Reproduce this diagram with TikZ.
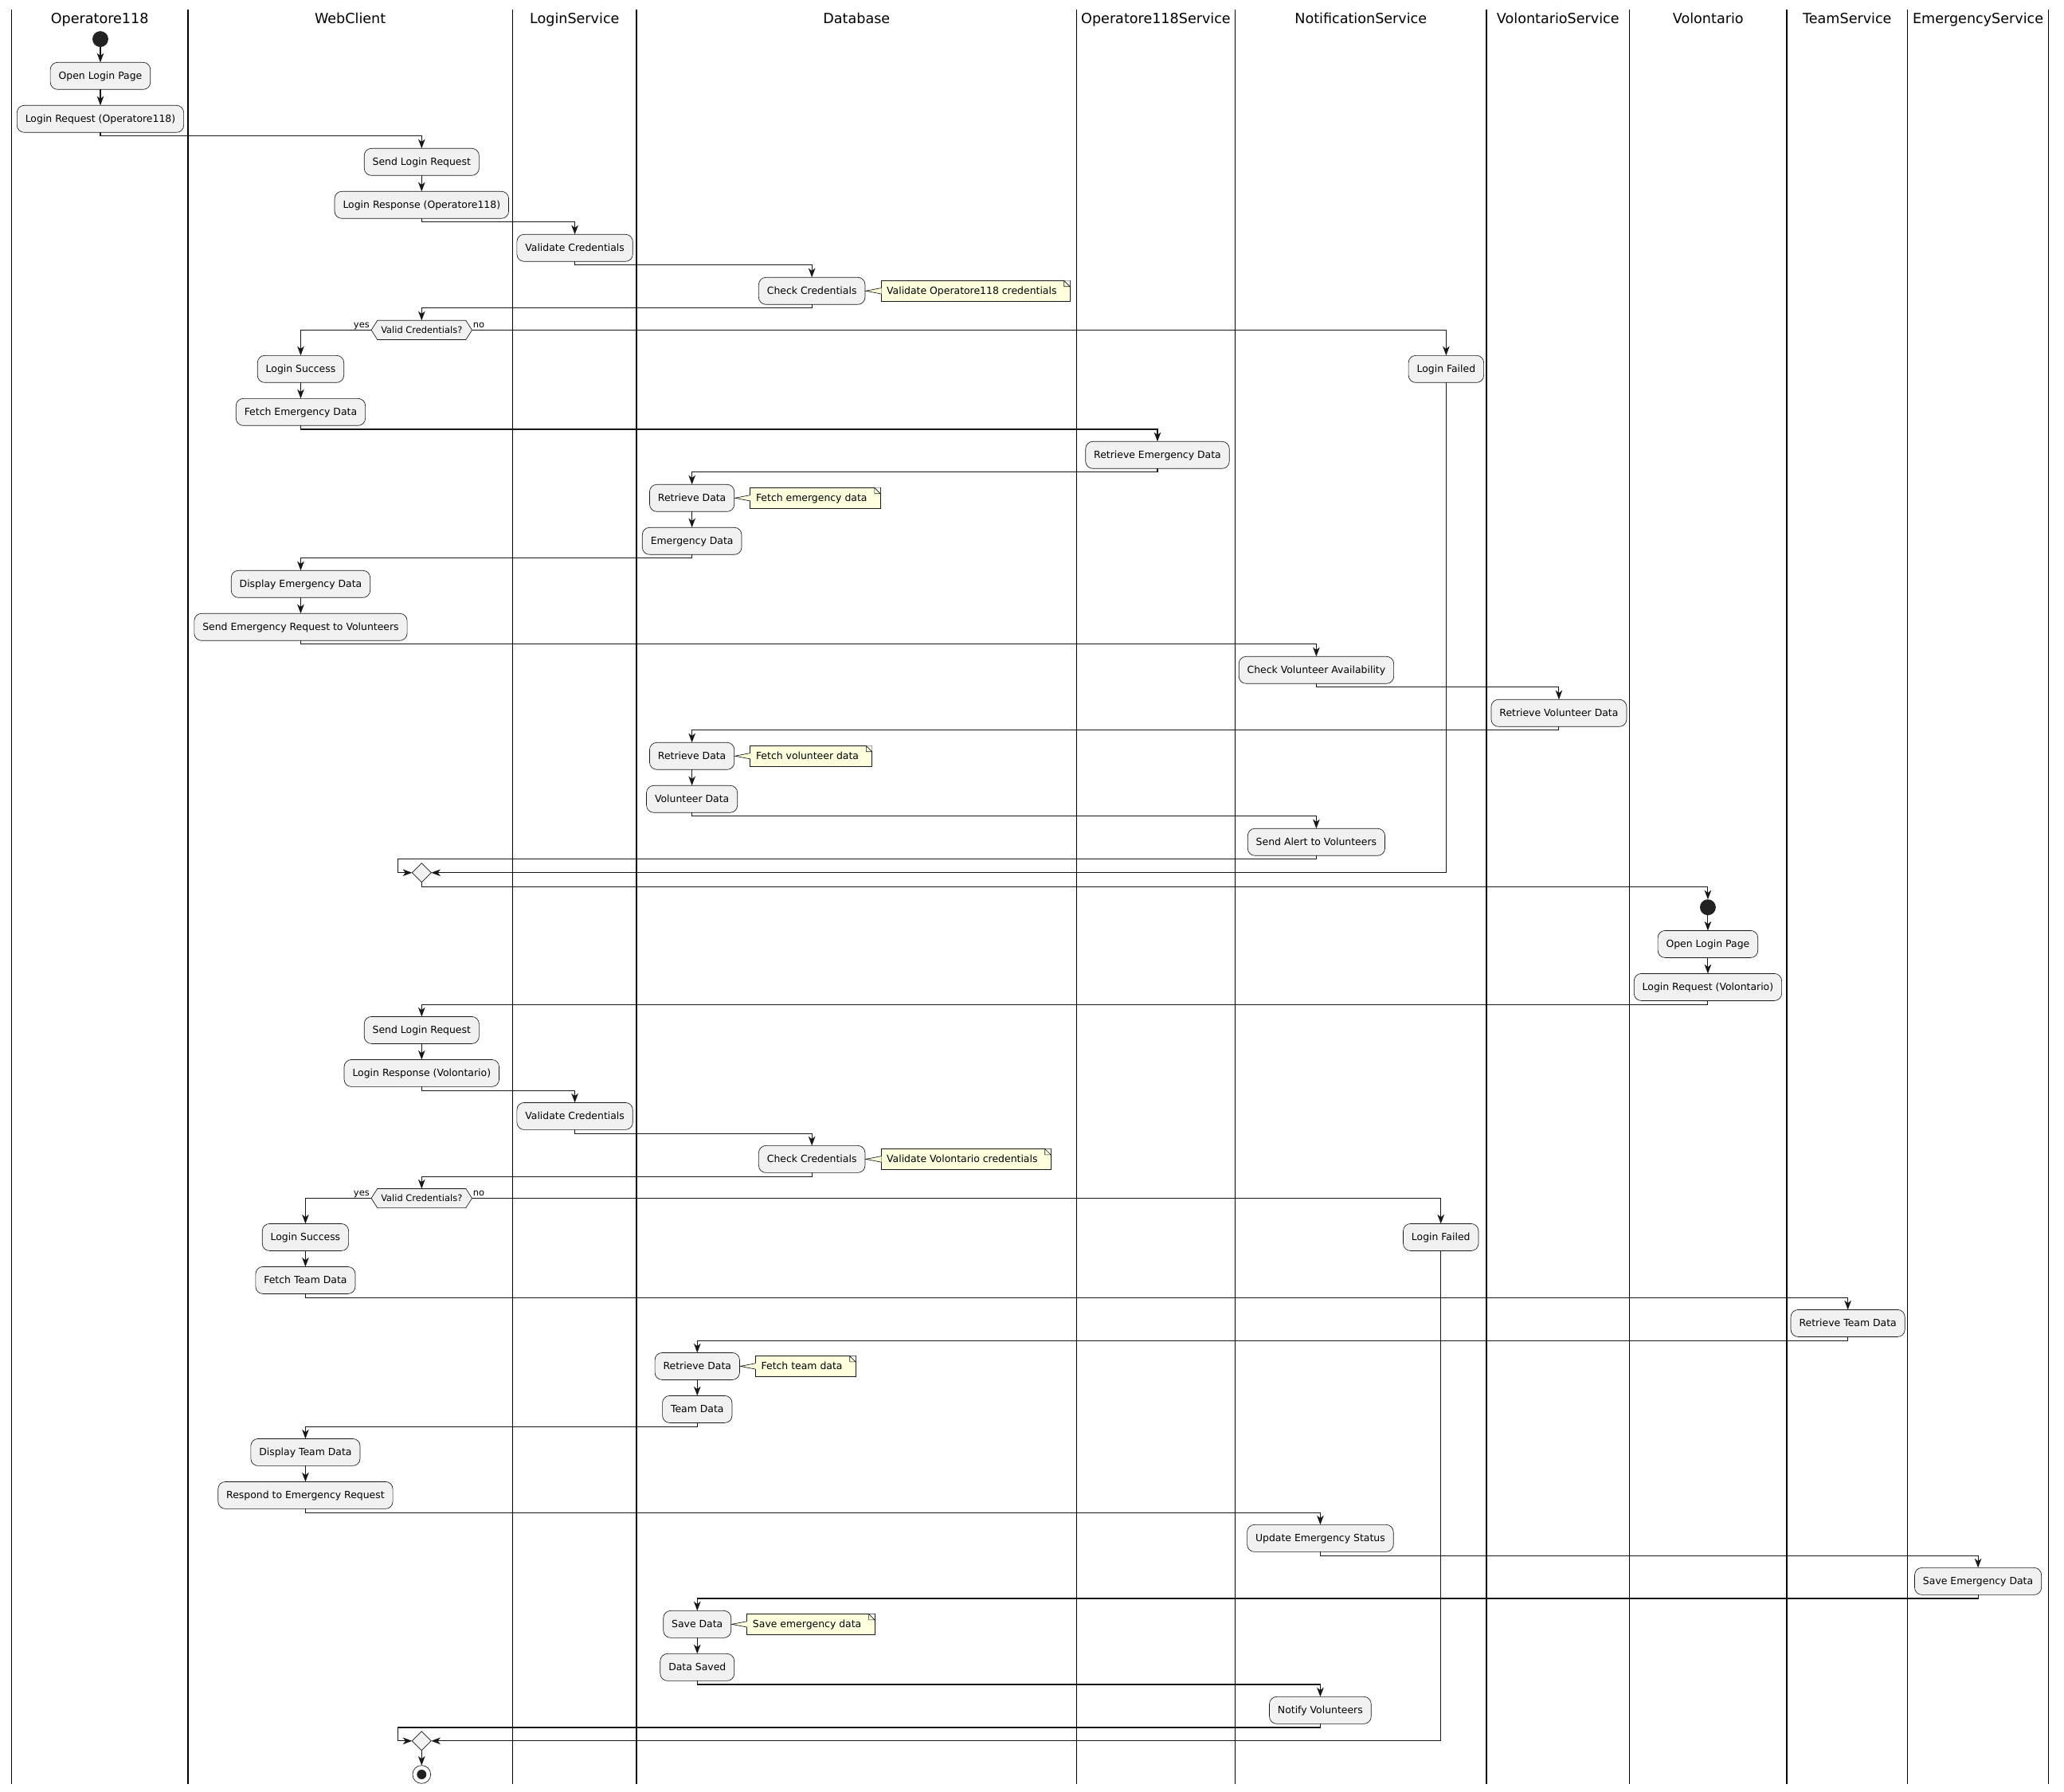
\documentclass[tikz,border=0pt]{standalone}
\usepackage{fontspec}
\setmainfont{DejaVu Sans}
\usetikzlibrary{arrows.meta, positioning, shapes.geometric, shapes.symbols}
\usepackage{xcolor}
\definecolor{actfill}{HTML}{F1F1F1}
\definecolor{actline}{HTML}{181818}
\definecolor{notefill}{HTML}{FEFFDD}
\definecolor{startfill}{HTML}{222222}

\begin{document}
\begin{tikzpicture}[
    x=1pt, y=-1pt,
    node distance=12.07pt,
    box/.style={draw=actline, fill=actfill, line width=0.4pt, rectangle, rounded corners=5.5pt,
        minimum height=20.5pt, inner xsep=6.3pt, inner ysep=0pt, outer sep=0pt,
        text height=5.7pt, text depth=0.5pt, font=\fontsize{7.5pt}{9pt}\selectfont},
    notebox/.style={draw=actline, fill=notefill, line width=0.4pt, rectangle,
        minimum height=15.5pt, inner xsep=4.4pt, inner ysep=0pt, outer sep=0pt,
        text height=5.7pt, text depth=0.5pt, font=\fontsize{7.5pt}{9pt}\selectfont,
        execute at end node=\hspace{5.6pt}},
    decision/.style={draw=actline, fill=actfill, line width=0.4pt, signal, signal to=east and west,
        signal pointer angle=115, minimum width=75.5pt, minimum height=14.6pt,
        inner xsep=2.7pt, inner ysep=0pt, outer sep=0pt,
        text height=5.2pt, text depth=0.5pt, font=\fontsize{6.9pt}{8pt}\selectfont},
    merge/.style={draw=actline, fill=actfill, line width=0.4pt, diamond, aspect=1,
        minimum width=14.5pt, minimum height=14.5pt, inner sep=0pt, outer sep=0pt},
    startdot/.style={circle, fill=startfill, minimum size=12pt, inner sep=0pt, outer sep=0pt},
    stopdot/.style={circle, draw=actline, fill=white, line width=0.4pt, minimum size=13.7pt,
        inner sep=0pt, outer sep=0pt,
        path picture={\fill[startfill] (path picture bounding box.center) circle (3.6pt);}},
    lanetitle/.style={anchor=base, font=\fontsize{10.6pt}{12pt}\selectfont},
    laneline/.style={line width=0.95pt, black},
    lbl/.style={inner sep=0pt, font=\fontsize{6.9pt}{8pt}\selectfont},
    arrow/.style={-{Stealth[length=7pt, width=5.2pt, inset=2pt]}, line width=0.65pt, actline}
]
\useasboundingbox (0,0) rectangle (1563,1357);

% Swimlanes
\foreach \x in {8.65,142.3,388.1,482.1,815.2,935.4,1125.6,1234,1353,1444.5,1551.3}
    \draw[laneline] (\x,7.4) -- (\x,1351);
\foreach \x/\t [count=\i] in {75.5/Operatore118, 265.2/WebClient, 435.1/LoginService,
        648.7/Database, 875.3/Operatore118Service, 1030.5/NotificationService,
        1179.8/VolontarioService, 1293.5/Volontario, 1398.8/TeamService, 1497.9/EmergencyService}
    \node[lanetitle] (lane\i) at (\x,17.7) {\t};

% Login Operatore118
\node[startdot] (opStart) at (76,29.6) {};
\node[box] (opOpen) at (76,57.5) {Open Login Page};
\node[box, below=of opOpen] (opReq) {Login Request (Operatore118)};
\node[box] (wcSend1) at (319.3,122.64) {Send Login Request};
\node[box, below=of wcSend1] (wcResp1) {Login Response (Operatore118)};
\node[box] (lsVal1) at (435.3,187.78) {Validate Credentials};
\node[box] (dbCheck1) at (614.8,220.35) {Check Credentials};
\node[notebox, right=12pt of dbCheck1] (noteA) {Validate Operatore118 credentials};
\node[decision] (dec1) at (319.3,250) {Valid Credentials?};
\node[lbl, anchor=base east] (yes1) at ([xshift=-1.2pt, yshift=1.7pt]dec1.west) {yes};
\node[lbl, anchor=base west] (no1) at ([xshift=0.6pt, yshift=1.7pt]dec1.east) {no};
\node[box] (failA) at (1095.1,279.5) {Login Failed};

% Emergency data
\node[box] (wcOk1) at (227.7,279.5) {Login Success};
\node[box, below=of wcOk1] (wcFetch1) {Fetch Emergency Data};
\node[box] (osRetr) at (876.5,344.64) {Retrieve Emergency Data};
\node[box] (dbRetr1) at (524,377.21) {Retrieve Data};
\node[notebox, right=12pt of dbRetr1] (noteB) {Fetch emergency data};
\node[box, below=of dbRetr1] (dbEmer) {Emergency Data};
\node[box] (wcShow1) at (227.7,442.35) {Display Emergency Data};
\node[box, below=of wcShow1] (wcSendReq) {Send Emergency Request to Volunteers};
\node[box] (nsCheck) at (996.8,507.49) {Check Volunteer Availability};
\node[box] (vsRetr) at (1180.5,540.06) {Retrieve Volunteer Data};
\node[box] (dbRetr2) at (524,572.63) {Retrieve Data};
\node[notebox, right=12pt of dbRetr2] (noteC) {Fetch volunteer data};
\node[box, below=of dbRetr2] (dbVol) {Volunteer Data};
\node[box] (nsAlert) at (996.8,637.77) {Send Alert to Volunteers};
\node[merge] (merge1) at (319.3,661) {};

% Login Volontario
\node[startdot] (voStart) at (1293.3,687.2) {};
\node[box] (voOpen) at (1293.3,715.1) {Open Login Page};
\node[box, below=of voOpen] (voReq) {Login Request (Volontario)};
\node[box] (wcSend2) at (319.3,780.24) {Send Login Request};
\node[box, below=of wcSend2] (wcResp2) {Login Response (Volontario)};
\node[box] (lsVal2) at (435.3,845.38) {Validate Credentials};
\node[box] (dbCheck2) at (614.8,877.95) {Check Credentials};
\node[notebox, right=12pt of dbCheck2] (noteD) {Validate Volontario credentials};
\node[decision] (dec2) at (319.3,907.6) {Valid Credentials?};
\node[lbl, anchor=base east] (yes2) at ([xshift=-1.2pt, yshift=1.7pt]dec2.west) {yes};
\node[lbl, anchor=base west] (no2) at ([xshift=0.6pt, yshift=1.7pt]dec2.east) {no};
\node[box] (failB) at (1091.1,937.1) {Login Failed};

% Team data and response
\node[box] (wcOk2) at (231.3,937.1) {Login Success};
\node[box, below=of wcOk2] (wcFetch2) {Fetch Team Data};
\node[box] (tsRetr) at (1399.3,1002.24) {Retrieve Team Data};
\node[box] (dbRetr3) at (528,1034.81) {Retrieve Data};
\node[notebox, right=12pt of dbRetr3] (noteE) {Fetch team data};
\node[box, below=of dbRetr3] (dbTeam) {Team Data};
\node[box] (wcShow2) at (231.3,1099.95) {Display Team Data};
\node[box, below=of wcShow2] (wcRespond) {Respond to Emergency Request};
\node[box] (nsUpdate) at (999.8,1165.09) {Update Emergency Status};
\node[box] (esSave) at (1497.9,1197.66) {Save Emergency Data};
\node[box] (dbSave) at (528,1230.23) {Save Data};
\node[notebox, right=12pt of dbSave] (noteF) {Save emergency data};
\node[box, below=of dbSave] (dbSaved) {Data Saved};
\node[box] (nsNotify) at (999.8,1295.37) {Notify Volunteers};
\node[merge] (merge2) at (319.3,1318.6) {};
\node[stopdot] (stop) at (319.3,1344) {};

% Note corners and tails
\foreach \n/\b in {noteA/dbCheck1, noteB/dbRetr1, noteC/dbRetr2, noteD/dbCheck2, noteE/dbRetr3, noteF/dbSave} {
    \fill[white] (\n.north east) -- ([xshift=-4.4pt]\n.north east) -- ([yshift=-4.4pt]\n.north east) -- cycle;
    \filldraw[fill=notefill, draw=actline, line width=0.4pt]
        ([xshift=-4.4pt]\n.north east) |- ([yshift=-4.4pt]\n.north east) -- cycle;
    \fill[notefill] ([xshift=0.4pt, yshift=2.2pt]\n.west) -- ([xshift=0.5pt]\b.east)
        -- ([xshift=0.4pt, yshift=-2.2pt]\n.west) -- cycle;
    \draw[actline, line width=0.4pt] ([yshift=2.2pt]\n.west) -- ([xshift=0.5pt]\b.east)
        -- ([yshift=-2.2pt]\n.west);
}

% Arrows Operatore118
\draw[arrow] (opStart) -- (opOpen);
\draw[arrow] (opOpen) -- (opReq);
\draw[arrow] (opReq.south) -- ++(0,2.8) -| (wcSend1.north);
\draw[arrow] (wcSend1) -- (wcResp1);
\draw[arrow] (wcResp1.south) -- ++(0,2.8) -| (lsVal1.north);
\draw[arrow] (lsVal1.south) -- ++(0,2.8) -| (dbCheck1.north);
\draw[arrow] (dbCheck1.south) -- ++(0,2.8) -| (dec1.north);
\draw[arrow] (dec1.west) -| (wcOk1.north);
\draw[arrow] (dec1.east) -| (failA.north);
\draw[arrow] (wcOk1) -- (wcFetch1);
\draw[arrow] (wcFetch1.south) -- ++(0,2.8) -| (osRetr.north);
\draw[arrow] (osRetr.south) -- ++(0,2.8) -| (dbRetr1.north);
\draw[arrow] (dbRetr1) -- (dbEmer);
\draw[arrow] (dbEmer.south) -- ++(0,2.8) -| (wcShow1.north);
\draw[arrow] (wcShow1) -- (wcSendReq);
\draw[arrow] (wcSendReq.south) -- ++(0,2.8) -| (nsCheck.north);
\draw[arrow] (nsCheck.south) -- ++(0,2.8) -| (vsRetr.north);
\draw[arrow] (vsRetr.south) -- ++(0,2.8) -| (dbRetr2.north);
\draw[arrow] (dbRetr2) -- (dbVol);
\draw[arrow] (dbVol.south) -- ++(0,2.8) -| (nsAlert.north);
\draw[arrow] (nsAlert.south) -- ++(0,2.8) -| ([xshift=-10.5pt]merge1.west) -- (merge1.west);
\draw[arrow] (failA.south) |- (merge1.east);
\draw[arrow] (merge1.south) -- ++(0,3.3) -| (voStart.north);

% Arrows Volontario
\draw[arrow] (voStart) -- (voOpen);
\draw[arrow] (voOpen) -- (voReq);
\draw[arrow] (voReq.south) -- ++(0,2.8) -| (wcSend2.north);
\draw[arrow] (wcSend2) -- (wcResp2);
\draw[arrow] (wcResp2.south) -- ++(0,2.8) -| (lsVal2.north);
\draw[arrow] (lsVal2.south) -- ++(0,2.8) -| (dbCheck2.north);
\draw[arrow] (dbCheck2.south) -- ++(0,2.8) -| (dec2.north);
\draw[arrow] (dec2.west) -| (wcOk2.north);
\draw[arrow] (dec2.east) -| (failB.north);
\draw[arrow] (wcOk2) -- (wcFetch2);
\draw[arrow] (wcFetch2.south) -- ++(0,2.8) -| (tsRetr.north);
\draw[arrow] (tsRetr.south) -- ++(0,2.8) -| (dbRetr3.north);
\draw[arrow] (dbRetr3) -- (dbTeam);
\draw[arrow] (dbTeam.south) -- ++(0,2.8) -| (wcShow2.north);
\draw[arrow] (wcShow2) -- (wcRespond);
\draw[arrow] (wcRespond.south) -- ++(0,2.8) -| (nsUpdate.north);
\draw[arrow] (nsUpdate.south) -- ++(0,2.8) -| (esSave.north);
\draw[arrow] (esSave.south) -- ++(0,2.8) -| (dbSave.north);
\draw[arrow] (dbSave) -- (dbSaved);
\draw[arrow] (dbSaved.south) -- ++(0,2.8) -| (nsNotify.north);
\draw[arrow] (nsNotify.south) -- ++(0,2.8) -| ([xshift=-10.5pt]merge2.west) -- (merge2.west);
\draw[arrow] (failB.south) |- (merge2.east);
\draw[arrow] (merge2) -- (stop);

\end{tikzpicture}
\end{document}
